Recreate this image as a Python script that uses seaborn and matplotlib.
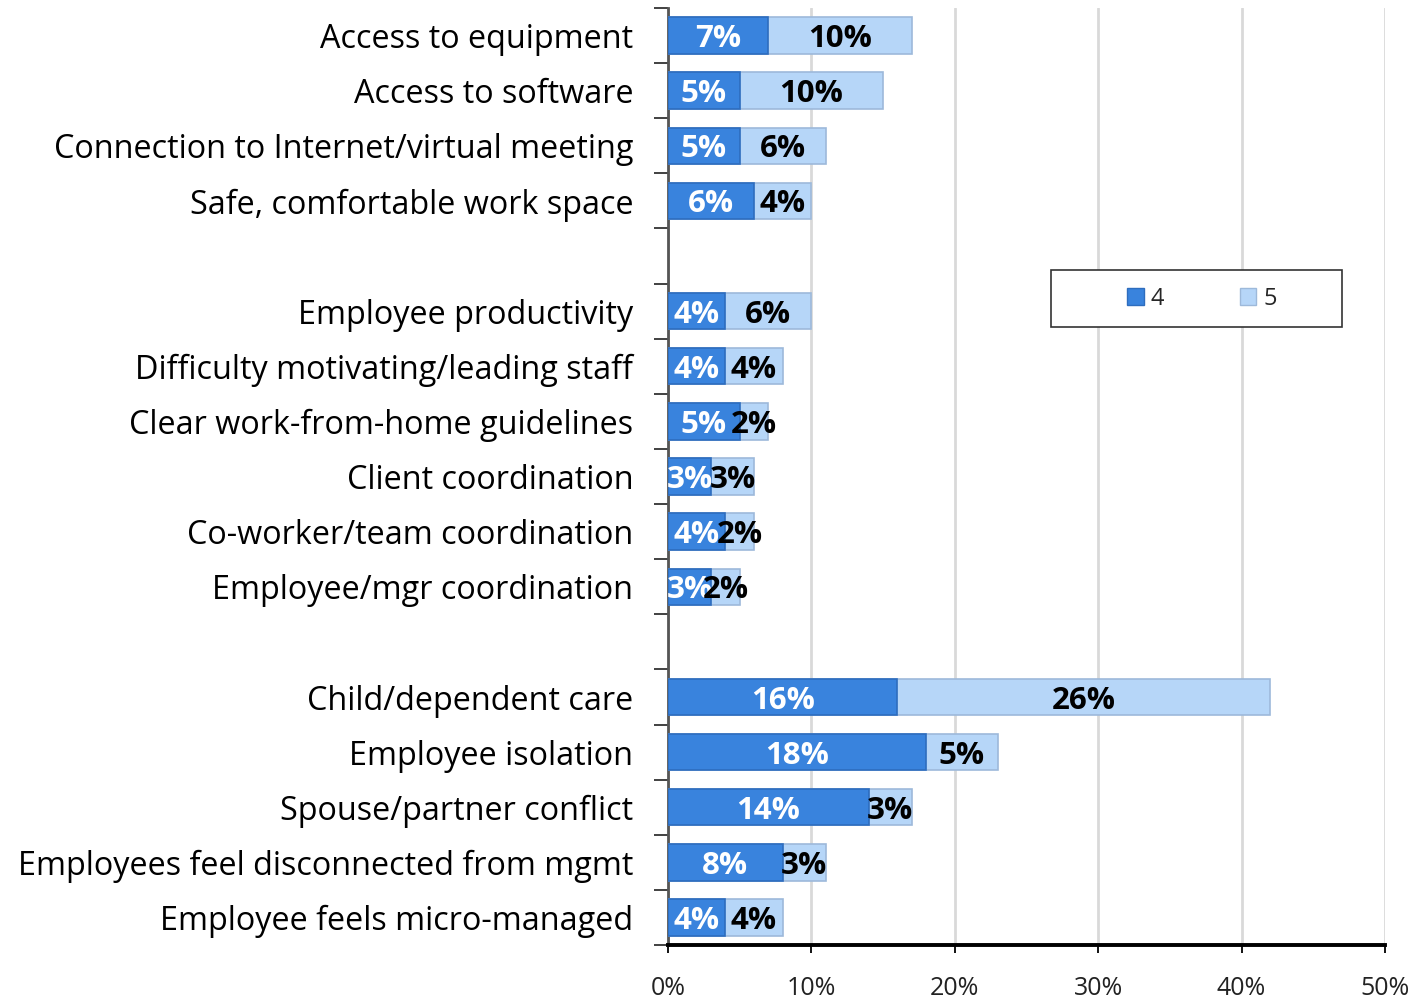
import matplotlib
matplotlib.use("Agg")
import matplotlib.pyplot as plt
from matplotlib.ticker import FixedLocator, PercentFormatter
from matplotlib.patches import Patch, Rectangle
import seaborn as sns
import pandas as pd
import numpy as np

categories = [
    "Access to equipment", "Access to software",
    "Connection to Internet/virtual meeting", "Safe, comfortable work space",
    "",
    "Employee productivity", "Difficulty motivating/leading staff",
    "Clear work-from-home guidelines", "Client coordination",
    "Co-worker/team coordination", "Employee/mgr coordination",
    " ",
    "Child/dependent care", "Employee isolation", "Spouse/partner conflict",
    "Employees feel disconnected from mgmt", "Employee feels micro-managed",
]
s4 = [7, 5, 5, 6, np.nan, 4, 4, 5, 3, 4, 3, np.nan, 16, 18, 14, 8, 4]
s5 = [10, 10, 6, 4, np.nan, 6, 4, 2, 3, 2, 2, np.nan, 26, 5, 3, 3, 4]
series_names = ["4", "5"]
xticks = [0, 10, 20, 30, 40, 50]

dark = "#3983DD"
light = "#B6D6F8"

sns.set_theme(style="white")
plt.rcParams["font.family"] = ["Open Sans", "DejaVu Sans"]

df = pd.DataFrame({"cat": categories, "s4": s4, "s5": s5})
df["total"] = df["s4"] + df["s5"]

fig = plt.figure(figsize=(14.28, 9.99), dpi=100)
ax = fig.add_axes([0.4678, 0.054, 0.9699 - 0.4678, 0.992 - 0.054])

sns.barplot(data=df, y="cat", x="total", order=categories, color=light,
            edgecolor="#9DB9DA", linewidth=1.2, width=0.66, ax=ax,
            errorbar=None, saturation=1, zorder=3)
sns.barplot(data=df, y="cat", x="s4", order=categories, color=dark,
            edgecolor="#2E6DBE", linewidth=1.2, width=0.66, ax=ax,
            errorbar=None, saturation=1, zorder=4)

for i, (a, b) in enumerate(zip(s4, s5)):
    if np.isnan(a):
        continue
    ax.text(a / 2, i, f"{int(a)}%", ha="center", va="center_baseline",
            color="white", fontsize=22.5, fontweight="bold", zorder=6)
    ax.text(a + b / 2, i, f"{int(b)}%", ha="center", va="center_baseline",
            color="black", fontsize=22.5, fontweight="bold", zorder=6)

ax.set_xlim(0, 50)
ax.set_ylim(len(categories) - 0.5, -0.5)
ax.set_xticks(xticks)
ax.xaxis.set_major_formatter(PercentFormatter(decimals=0))
ax.set_xlabel("")
ax.set_ylabel("")

ax.grid(axis="x", color="#D9D9D9", linewidth=2.0, zorder=0)
ax.grid(axis="y", visible=False)
ax.set_axisbelow(True)

ax.yaxis.set_minor_locator(FixedLocator(np.arange(-0.5, len(categories), 1.0)))
ax.tick_params(axis="y", which="major", length=0, pad=25, labelsize=23.3,
               labelcolor="black")
ax.tick_params(axis="y", which="minor", length=10, width=1.3, color="#333333",
               direction="out", left=True)
ax.tick_params(axis="x", which="major", length=6, width=1.3, color="black",
               direction="out", bottom=True, pad=16, labelsize=18,
               labelcolor="#222222")
for lbl in ax.get_yticklabels():
    lbl.set_verticalalignment("center_baseline")

for s in ["top", "right"]:
    ax.spines[s].set_visible(False)
ax.spines["left"].set_color("#555555")
ax.spines["left"].set_linewidth(2)
ax.spines["bottom"].set_color("black")
ax.spines["bottom"].set_linewidth(2.8)

# legend box
box = Rectangle((0.534, 0.6595), 0.406, 0.0605, transform=ax.transAxes,
                facecolor="white", edgecolor="#333333", linewidth=1.2,
                zorder=7)
ax.add_patch(box)
handles = [Patch(facecolor=dark, edgecolor="#2E6DBE"),
           Patch(facecolor=light, edgecolor="#9DB9DA")]
leg = ax.legend(handles, series_names, loc="center",
                bbox_to_anchor=(0.534 + 0.203 + 0.008, 0.6595 + 0.03025),
                ncol=2, frameon=False, fontsize=17,
                handlelength=0.7, handleheight=0.7, handletextpad=0.3,
                borderaxespad=0, columnspacing=3.2)
leg.set_zorder(8)

fig.savefig("out.png", dpi=100)
